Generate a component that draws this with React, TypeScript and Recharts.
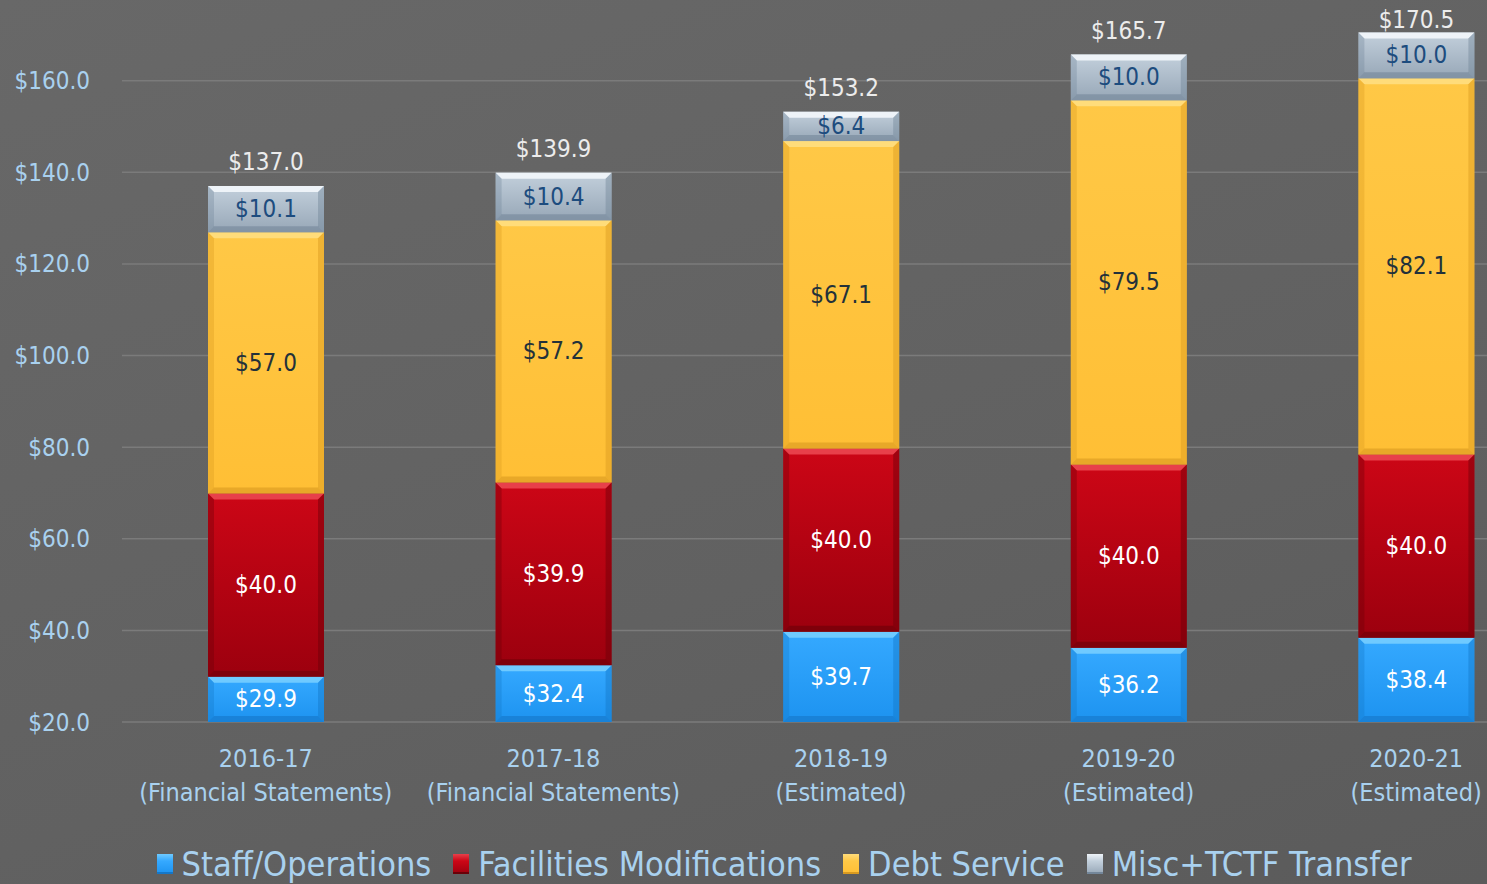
import React from "react";
import { Bar, BarChart, CartesianGrid, LabelList, Legend, XAxis, YAxis } from "recharts";

const years = ["2016-17", "2017-18", "2018-19", "2019-20", "2020-21"];
const notes = [
  "(Financial Statements)",
  "(Financial Statements)",
  "(Estimated)",
  "(Estimated)",
  "(Estimated)",
];
const staff = [29.9, 32.4, 39.7, 36.2, 38.4];
const facilities = [40.0, 39.9, 40.0, 40.0, 40.0];
const debt = [57.0, 57.2, 67.1, 79.5, 82.1];
const misc = [10.1, 10.4, 6.4, 10.0, 10.0];
const totals = [137.0, 139.9, 153.2, 165.7, 170.5];
const yTicks = [20, 40, 60, 80, 100, 120, 140, 160];

const data = years.map((year, i) => ({
  year,
  note: notes[i],
  staff: staff[i],
  facilities: facilities[i],
  debt: debt[i],
  misc: misc[i],
  total: totals[i],
}));

const FONT = "'DejaVu Sans Condensed', 'DejaVu Sans', sans-serif";
const AXIS_TEXT = "#a9d1ef";
const CHART_W = 1560;
const CHART_H = 895;
const SHIFT = 11; // plot top sits just above the visible frame
const PLOT_BOTTOM = CHART_H - 162;

const series = [
  { key: "staff", name: "Staff/Operations", top: "#6fcaff", a: "#35a9ff", b: "#1d93f0", edge: "#1577c8", label: "#ffffff" },
  { key: "facilities", name: "Facilities Modifications", top: "#e8404a", a: "#cc0616", b: "#9c000e", edge: "#6a0008", label: "#ffffff" },
  { key: "debt", name: "Debt Service", top: "#ffdc7a", a: "#ffc846", b: "#ffbf35", edge: "#d99a20", label: "#23313a" },
  { key: "misc", name: "Misc+TCTF Transfer", top: "#eef3f8", a: "#c3d0dc", b: "#97a7b7", edge: "#74879a", label: "#1d4c7e" },
];

const money = (v: number) => "$" + v.toFixed(1);

function box(p: any) {
  const vb = p.viewBox && p.viewBox.width != null ? p.viewBox : p;
  const x = Number(vb.x);
  const w = Number(vb.width);
  const y1 = Number(vb.y);
  const y2 = y1 + Number(vb.height);
  const top = Math.min(y1, y2);
  const bottom = Math.min(Math.max(y1, y2), PLOT_BOTTOM);
  return { x, w, top, bottom };
}

function bevel(s: (typeof series)[number]) {
  return (p: any) => {
    const { x, w, top, bottom } = box(p);
    const h = bottom - top;
    if (!(h > 0)) return <g />;
    const b = Math.min(6, h / 3);
    return (
      <g>
        <rect x={x} y={top} width={w} height={h} fill={`url(#body-${s.key})`} />
        <polygon
          points={`${x},${top} ${x + w},${top} ${x + w - b},${top + b} ${x + b},${top + b}`}
          fill={s.top}
        />
        <polygon
          points={`${x},${top} ${x + b},${top + b} ${x + b},${bottom - b} ${x},${bottom}`}
          fill={s.edge}
          opacity={0.35}
        />
        <polygon
          points={`${x + w},${top} ${x + w - b},${top + b} ${x + w - b},${bottom - b} ${x + w},${bottom}`}
          fill={s.edge}
          opacity={0.45}
        />
        <polygon
          points={`${x},${bottom} ${x + b},${bottom - b} ${x + w - b},${bottom - b} ${x + w},${bottom}`}
          fill={s.edge}
          opacity={0.6}
        />
      </g>
    );
  };
}

function segLabel(color: string) {
  return (p: any) => {
    const { x, w, top, bottom } = box(p);
    return (
      <text
        x={x + w / 2}
        y={(top + bottom) / 2}
        textAnchor="middle"
        dominantBaseline="central"
        fill={color}
        fontSize={24}
        fontFamily={FONT}
      >
        {money(Number(p.value))}
      </text>
    );
  };
}

const totalLabel = (p: any) => {
  const { x, w, top } = box(p);
  return (
    <text
      x={x + w / 2}
      y={Math.max(top - 24, 20 + SHIFT)}
      textAnchor="middle"
      dominantBaseline="central"
      fill="#ececec"
      fontSize={24}
      fontFamily={FONT}
    >
      {money(Number(p.value))}
    </text>
  );
};

const YearTick = (p: any) => {
  const i = p.payload.index;
  return (
    <g>
      <text x={p.x} y={p.y + 36} textAnchor="middle" dominantBaseline="central" fill={AXIS_TEXT} fontSize={25} fontFamily={FONT}>
        {years[i]}
      </text>
      <text x={p.x} y={p.y + 70} textAnchor="middle" dominantBaseline="central" fill={AXIS_TEXT} fontSize={25} fontFamily={FONT}>
        {notes[i]}
      </text>
    </g>
  );
};

const LegendBox = () => (
  <div
    style={{
      height: 62,
      display: "flex",
      justifyContent: "center",
      alignItems: "flex-end",
      fontFamily: FONT,
      paddingLeft: 8,
    }}
  >
    {series.map((s, i) => (
      <span
        key={s.key}
        style={{ display: "flex", alignItems: "center", marginRight: i < series.length - 1 ? 22 : 0, height: 40 }}
      >
        <span
          style={{
            display: "inline-block",
            width: 16,
            height: 20,
            marginRight: 9,
            background: `linear-gradient(${s.top}, ${s.a} 35%, ${s.b})`,
            boxShadow: `inset 0 -2px 0 ${s.edge}`,
          }}
        />
        <span style={{ fontSize: 34, color: AXIS_TEXT, lineHeight: "40px" }}>{s.name}</span>
      </span>
    ))}
  </div>
);

export default function App() {
  return (
    <div
      style={{
        position: "fixed",
        left: 0,
        top: 0,
        width: 1487,
        height: 884,
        overflow: "hidden",
        background: "linear-gradient(160deg, #686868, #616161 60%, #5b5b5b)",
      }}
    >
      <div style={{ position: "absolute", left: 0, top: -SHIFT }}>
        <BarChart
          width={CHART_W}
          height={CHART_H}
          data={data}
          margin={{ top: 0, right: 0, left: 0, bottom: 0 }}
          barSize={116}
        >
          <defs>
            {series.map((s) => (
              <linearGradient key={s.key} id={`body-${s.key}`} x1="0" y1="0" x2="0" y2="1">
                <stop offset="0%" stopColor={s.a} />
                <stop offset="100%" stopColor={s.b} />
              </linearGradient>
            ))}
          </defs>
          <CartesianGrid vertical={false} stroke="#7b7b7b" strokeWidth={1.5} />
          <XAxis
            dataKey="year"
            axisLine={false}
            tickLine={false}
            tickSize={0}
            tickMargin={0}
            height={100}
            interval={0}
            tick={<YearTick />}
          />
          <YAxis
            domain={[20, 180]}
            allowDataOverflow
            ticks={yTicks}
            tickFormatter={money}
            axisLine={false}
            tickLine={false}
            tickSize={0}
            tickMargin={32}
            width={122}
            tick={{ fill: AXIS_TEXT, fontSize: 24, fontFamily: FONT }}
          />
          <Legend verticalAlign="bottom" content={<LegendBox />} />
          {series.map((s) => (
            <Bar
              key={s.key}
              dataKey={s.key}
              name={s.name}
              stackId="a"
              fill={s.a}
              shape={bevel(s)}
              isAnimationActive={false}
            >
              <LabelList dataKey={s.key} content={segLabel(s.label)} />
              {s.key === "misc" ? <LabelList dataKey="total" content={totalLabel} /> : null}
            </Bar>
          ))}
        </BarChart>
      </div>
    </div>
  );
}
